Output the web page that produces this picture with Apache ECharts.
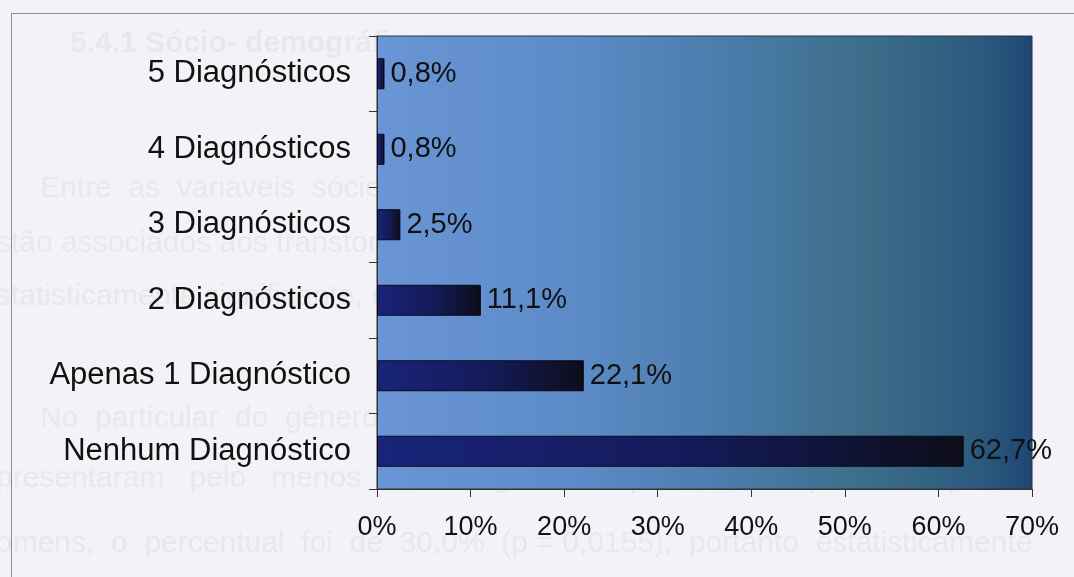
<!DOCTYPE html>
<html>
<head>
<meta charset="utf-8">
<script src="https://cdn.jsdelivr.net/npm/echarts@6/dist/echarts.min.js"></script>
<style>
  html, body { margin: 0; padding: 0; background: #f3f3f7; }
  #chart { width: 1074px; height: 577px; }
</style>
</head>
<body>
<div id="chart"></div>
<script>
// Number of diagnoses per respondent (percent), bottom to top
const categories = [
  'Nenhum Diagnóstico',
  'Apenas 1 Diagnóstico',
  '2 Diagnósticos',
  '3 Diagnósticos',
  '4 Diagnósticos',
  '5 Diagnósticos'
];
const percentValues = [62.7, 22.1, 11.1, 2.5, 0.8, 0.8];
const xTicks = { min: 0, max: 70, step: 10 };

// Faint page text printed through from the other side of the sheet
const pageLines = [
  { text: '5.4.1 Sócio- demográficas', x: 70, y: 45, bold: true },
  { text: 'Entre  as  variáveis  sócio  demográficas  estudadas,  o  sexo  e  o  c', x: 40, y: 190 },
  { text: 'stão associados aos transtornos depressivos diagnosticados, de forma', x: -4, y: 245 },
  { text: 'statisticamente significante, como pode ser visto a seguir.', x: -4, y: 298 },
  { text: 'No  particular  do  gênero,  das  101  mulheres  entrevistadas,  de', x: 40, y: 420 },
  { text: 'presentaram   pelo   menos   um   diagnóstico   positivo,   enquanto   ,   p', x: -4, y: 480 },
  { text: 'omens,  o  percentual  foi  de  30,0%  (p = 0,0155),  portanto  estatisticamente', x: -4, y: 545 }
];

const fontFamily = '"Liberation Sans", Arial, sans-serif';
const chart = echarts.init(document.getElementById('chart'), null, { renderer: 'canvas' });

const fmtPct = v => v.toFixed(1).replace('.', ',') + '%';

const ghost = pageLines.map(l => ({
  type: 'text',
  left: l.x,
  top: l.y - 16,
  z: -10,
  silent: true,
  style: {
    text: l.text,
    fill: '#e7e7ec',
    font: (l.bold ? 'bold ' : '') + '30px ' + fontFamily
  }
}));

chart.setOption({
  backgroundColor: '#f3f3f7',
  animation: false,
  graphic: [
    ...ghost,
    {
      type: 'rect',
      z: -5,
      silent: true,
      shape: { x: 11.5, y: 13.5, width: 1200, height: 700 },
      style: { fill: 'none', stroke: '#8c8c90', lineWidth: 1 }
    }
  ],
  grid: {
    left: 377,
    top: 36,
    width: 655,
    height: 453,
    show: true,
    borderColor: '#26344a',
    borderWidth: 1,
    backgroundColor: {
      type: 'linear', x: 0, y: 0, x2: 1, y2: 0,
      colorStops: [
        { offset: 0, color: '#6a95d6' },
        { offset: 0.3, color: '#5d8bc8' },
        { offset: 0.55, color: '#4a7ba8' },
        { offset: 0.75, color: '#3c6d88' },
        { offset: 0.92, color: '#2b5a7e' },
        { offset: 1, color: '#1f4673' }
      ]
    }
  },
  xAxis: {
    type: 'value',
    min: xTicks.min,
    max: xTicks.max,
    interval: xTicks.step,
    splitLine: { show: false },
    axisLine: { show: true, lineStyle: { color: '#333', width: 1 } },
    axisTick: { show: true, length: 8, lineStyle: { color: '#333' } },
    axisLabel: {
      formatter: '{value}%',
      fontSize: 27,
      fontFamily: fontFamily,
      color: '#111',
      margin: 25
    }
  },
  yAxis: {
    type: 'category',
    data: categories,
    axisLine: { show: true, lineStyle: { color: '#333', width: 1 } },
    axisTick: { show: true, length: 8, alignWithLabel: false, lineStyle: { color: '#333' } },
    axisLabel: {
      fontSize: 31,
      fontFamily: fontFamily,
      color: '#111',
      margin: 26
    }
  },
  series: [{
    type: 'bar',
    data: percentValues,
    barWidth: 31,
    itemStyle: {
      borderColor: '#0a0a14',
      borderWidth: 1,
      color: {
        type: 'linear', x: 0, y: 0, x2: 1, y2: 0,
        colorStops: [
          { offset: 0, color: '#19247a' },
          { offset: 0.55, color: '#141a58' },
          { offset: 1, color: '#0d0d19' }
        ]
      }
    },
    label: {
      show: true,
      position: 'right',
      distance: 6,
      fontSize: 29,
      fontFamily: fontFamily,
      color: '#111',
      formatter: p => fmtPct(p.value)
    }
  }]
});
</script>
</body>
</html>
